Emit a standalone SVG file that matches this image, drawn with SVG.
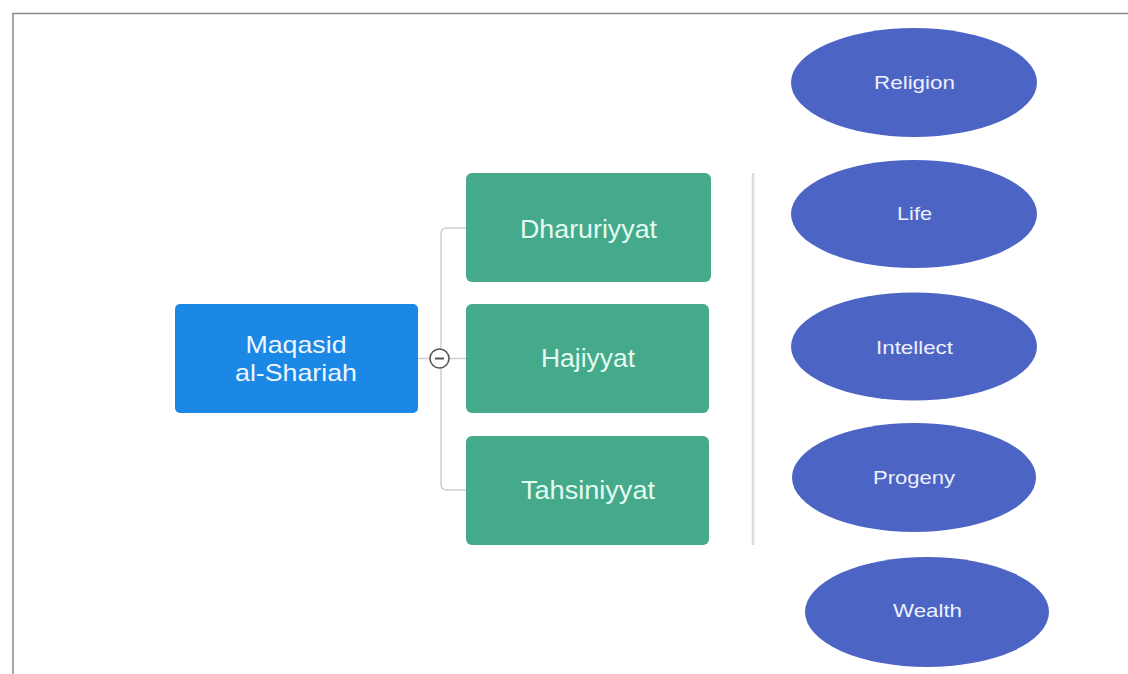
<svg xmlns="http://www.w3.org/2000/svg" width="1128" height="674" viewBox="0 0 1128 674">
<style>
text{font-family:"Liberation Sans",Arial,sans-serif;text-anchor:middle}
.root{fill:#1a88e4}
.cat{fill:#45a98b}
.val{fill:#4c64c4}
.t1{fill:#eef6ff;font-size:24px}
.t2{fill:#e4fbef;font-size:25px}
.t3{fill:#eef0ff;font-size:18.5px}
.conn{fill:none;stroke:#cfcfcf;stroke-width:1.5}
</style>
<rect x="0" y="0" width="1128" height="674" fill="#fff"/>
<path d="M13,674 V13.5 H1128" fill="none" stroke="#8a8a8a" stroke-width="1.5"/>
<g id="connectors">
<path class="conn" d="M418,358.5 H466"/>
<path class="conn" d="M466,228 H447 Q441,228 441,234 V484 Q441,490 447,490 H466"/>
<line x1="753" y1="173" x2="753" y2="545" stroke="#dcdcdc" stroke-width="2.5"/>
<circle cx="439.5" cy="358.5" r="9.5" fill="#fff" stroke="#555" stroke-width="1.6"/>
<line x1="435" y1="358.5" x2="444" y2="358.5" stroke="#555" stroke-width="2"/>
</g>
<g id="root">
<rect class="root" x="175" y="304" width="243" height="109" rx="5"/>
<text class="t1" x="296" y="353" textLength="101" lengthAdjust="spacingAndGlyphs">Maqasid</text>
<text class="t1" x="296" y="381" textLength="122" lengthAdjust="spacingAndGlyphs">al-Shariah</text>
</g>
<g id="dharuriyyat">
<rect class="cat" x="466" y="173" width="245" height="109" rx="6"/>
<text class="t2" x="588.5" y="237.5" textLength="137" lengthAdjust="spacingAndGlyphs">Dharuriyyat</text>
</g>
<g id="hajiyyat">
<rect class="cat" x="466" y="304" width="243" height="109" rx="6"/>
<text class="t2" x="588" y="367" textLength="94" lengthAdjust="spacingAndGlyphs">Hajiyyat</text>
</g>
<g id="tahsiniyyat">
<rect class="cat" x="466" y="436" width="243" height="109" rx="6"/>
<text class="t2" x="588" y="499" textLength="134" lengthAdjust="spacingAndGlyphs">Tahsiniyyat</text>
</g>
<g id="religion">
<ellipse class="val" cx="914" cy="82.5" rx="123" ry="54.5"/>
<text class="t3" x="914.5" y="88.5" textLength="81" lengthAdjust="spacingAndGlyphs">Religion</text>
</g>
<g id="life">
<ellipse class="val" cx="914" cy="214" rx="123" ry="54"/>
<text class="t3" x="914.5" y="220" textLength="35" lengthAdjust="spacingAndGlyphs">Life</text>
</g>
<g id="intellect">
<ellipse class="val" cx="914" cy="346.5" rx="123" ry="54"/>
<text class="t3" x="914.5" y="354" textLength="77" lengthAdjust="spacingAndGlyphs">Intellect</text>
</g>
<g id="progeny">
<ellipse class="val" cx="914" cy="477.5" rx="122" ry="54.5"/>
<text class="t3" x="914" y="484" textLength="82" lengthAdjust="spacingAndGlyphs">Progeny</text>
</g>
<g id="wealth">
<ellipse class="val" cx="927" cy="612" rx="122" ry="55"/>
<text class="t3" x="927.5" y="617" textLength="69" lengthAdjust="spacingAndGlyphs">Wealth</text>
</g>
</svg>
